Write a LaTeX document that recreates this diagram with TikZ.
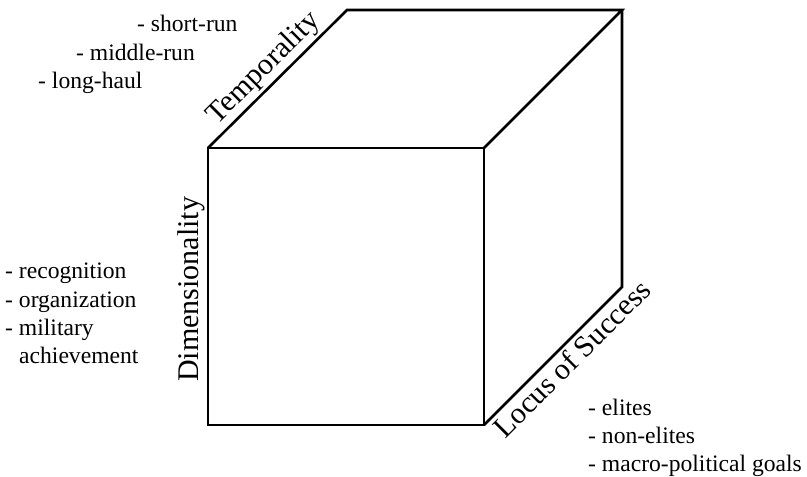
\documentclass[tikz,border=0pt]{standalone}
\usepackage{fontspec}
\setmainfont{Liberation Serif}
\begin{document}
\begin{tikzpicture}[x=1pt,y=-1pt,
  edge/.style={line width=2.6pt,line join=miter},
  axislabel/.style={font=\fontsize{30}{34}\selectfont,sloped,inner sep=3pt},
  item/.style={font=\fontsize{23.6}{27}\selectfont,anchor=base west,inner sep=0pt}]
\useasboundingbox (0,0) rectangle (807,477);
% cube corners
\coordinate (ftl) at (208,148);
\coordinate (ftr) at (484,148);
\coordinate (fbl) at (208,425);
\coordinate (fbr) at (484,425);
\coordinate (btl) at (347,10);
\coordinate (btr) at (622,10);
\coordinate (bbr) at (622,287);
% cube
\draw[edge] (ftl) -- (ftr) -- (fbr) -- (fbl) -- cycle;
\draw[edge] (ftl) -- (btl) -- (btr) -- (ftr);
\draw[edge] (btr) -- (bbr) -- (fbr);
% axis labels
\path (ftl) -- (btl) node[axislabel,above,pos=0.49] (temp) {Temporality};
\path (fbl) -- (ftl) node[axislabel,above,pos=0.49] (dim) {Dimensionality};
\path (fbr) -- (bbr) node[axislabel,below,pos=0.56,inner sep=4pt] (locus) {Locus of Success};
% lists
\node[item] (t1) at (137,31) {- short-run};
\node[item] (t2) at (76,60) {- middle-run};
\node[item] (t3) at (38,88) {- long-haul};
\node[item] (d1) at (5,278) {- recognition};
\node[item] (d2) at (5,307) {- organization};
\node[item] (d3) at (5,335) {- military};
\node[item] (d4) at (19,363) {achievement};
\node[item] (l1) at (588,415) {- elites};
\node[item] (l2) at (588,443) {- non-elites};
\node[item] (l3) at (588,471) {- macro-political goals};
\end{tikzpicture}
\end{document}
